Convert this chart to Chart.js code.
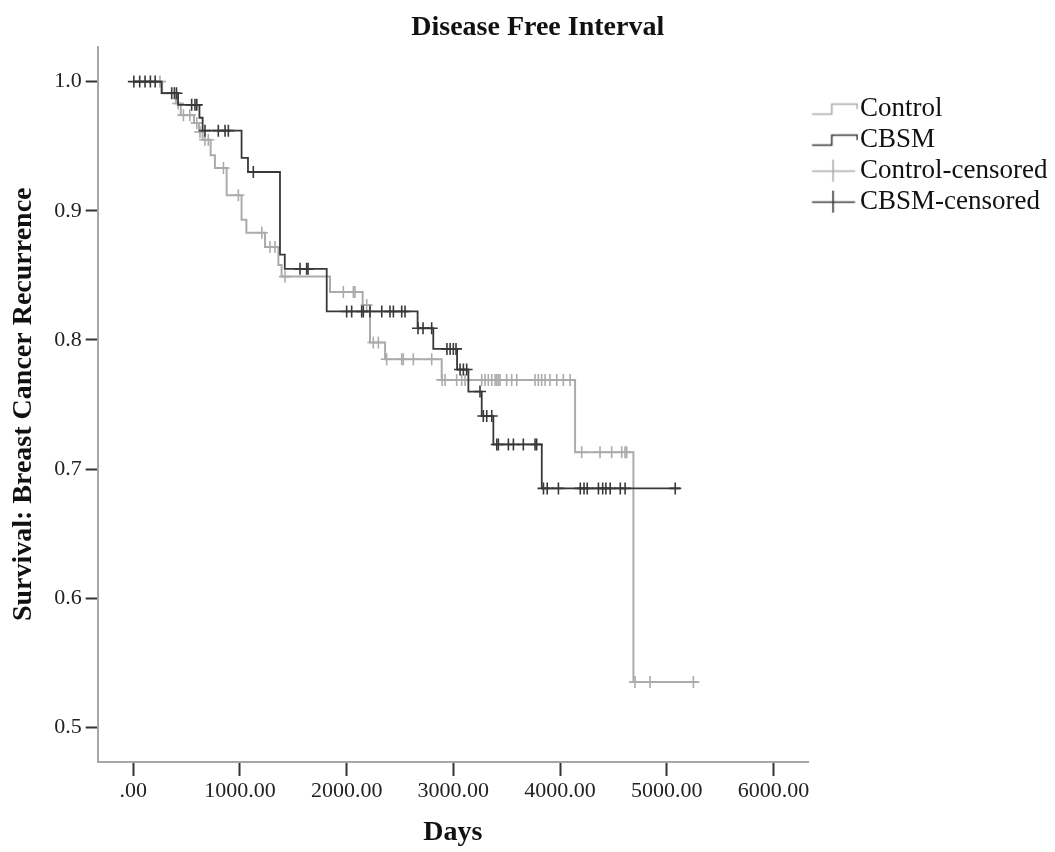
<!DOCTYPE html>
<html>
<head>
<meta charset="utf-8">
<script src="https://cdn.jsdelivr.net/npm/chart.js@4"></script>
<style>
  html, body { margin: 0; padding: 0; background: #ffffff; }
  #wrap { width: 1055px; height: 852px; position: relative; }
</style>
</head>
<body>
<div id="wrap"><canvas id="chart"></canvas></div>
<script>
// ---- Data (Kaplan-Meier step points: time in days, survival) ----
const controlTimes = [0, 270, 400, 445, 570, 615, 650, 725, 765, 875, 1015, 1060, 1235, 1360, 1390, 1844, 2150, 2219, 2360, 2891, 4141, 4688, 5282];
const controlSurv  = [1.0, 0.991, 0.983, 0.974, 0.968, 0.961, 0.955, 0.943, 0.933, 0.912, 0.893, 0.883, 0.872, 0.858, 0.849, 0.837, 0.827, 0.798, 0.785, 0.769, 0.713, 0.535, 0.535];

const cbsmTimes = [0, 265, 420, 620, 650, 1015, 1075, 1375, 1420, 1813, 2665, 2812, 3035, 3141, 3266, 3375, 3829, 5125];
const cbsmSurv  = [1.0, 0.991, 0.982, 0.972, 0.962, 0.941, 0.930, 0.866, 0.855, 0.822, 0.809, 0.793, 0.777, 0.760, 0.741, 0.719, 0.685, 0.685];

// censored observation times (days)
const controlCensored = [250, 420, 470, 530, 595, 625, 672, 703, 845, 985, 1205, 1281, 1328, 1422, 1969, 2063, 2078, 2188, 2250, 2297, 2375, 2516, 2531, 2625, 2797, 2895, 2922, 3031, 3078, 3110, 3266, 3297, 3328, 3360, 3391, 3406, 3422, 3438, 3500, 3547, 3594, 3766, 3797, 3828, 3860, 3906, 3969, 4031, 4094, 4203, 4375, 4484, 4578, 4609, 4625, 4703, 4844, 5250];
const cbsmCensored = [5, 60, 110, 160, 205, 360, 385, 405, 547, 578, 595, 672, 797, 860, 891, 1125, 1563, 1625, 1638, 2000, 2047, 2141, 2156, 2219, 2329, 2406, 2438, 2516, 2547, 2669, 2716, 2797, 2940, 2970, 3000, 3025, 3063, 3094, 3125, 3250, 3281, 3313, 3360, 3407, 3422, 3516, 3563, 3656, 3766, 3781, 3845, 3880, 3985, 4190, 4225, 4255, 4360, 4400, 4430, 4470, 4565, 4610, 5080];

const xTickValues = [0, 1000, 2000, 3000, 4000, 5000, 6000];
const yTickValues = [0.5, 0.6, 0.7, 0.8, 0.9, 1.0];
const seriesNames = ['Control', 'CBSM', 'Control-censored', 'CBSM-censored'];

// ---- helpers ----
function survivalAt(times, surv, t) {
  let s = surv[0];
  for (let i = 0; i < times.length; i++) {
    if (times[i] <= t) s = surv[i]; else break;
  }
  return s;
}
const toPoints = (xs, ys) => xs.map((x, i) => ({ x: x, y: ys[i] }));
const censorPoints = (cens, times, surv) => cens.map(t => ({ x: t, y: survivalAt(times, surv, t) }));

const GRAY = '#ababab';
const DARK = '#383838';
const SERIF = "'Liberation Serif', 'Times New Roman', serif";

function makeIcon(kind, color) {
  const c = document.createElement('canvas');
  c.width = 58; c.height = 28;
  const g = c.getContext('2d');
  g.strokeStyle = color;
  g.lineWidth = 1.6;
  g.beginPath();
  if (kind === 'step') {
    g.moveTo(11.75, 19.5); g.lineTo(31.5, 19.5); g.lineTo(31.5, 9.5); g.lineTo(57, 9.5); g.lineTo(57, 14.5);
  } else {
    g.moveTo(11.75, 14.5); g.lineTo(54.75, 14.5);
    g.moveTo(32.75, 3); g.lineTo(32.75, 25);
  }
  g.stroke();
  return c;
}
const legendIcons = [makeIcon('step', GRAY), makeIcon('step', DARK), makeIcon('cross', GRAY), makeIcon('cross', DARK)];

new Chart(document.getElementById('chart'), {
  type: 'scatter',
  data: {
    datasets: [
      { label: seriesNames[0], data: toPoints(controlTimes, controlSurv), showLine: true, stepped: 'before',
        borderColor: GRAY, borderWidth: 2, pointRadius: 0, fill: false, order: 3 },
      { label: seriesNames[1], data: toPoints(cbsmTimes, cbsmSurv), showLine: true, stepped: 'before',
        borderColor: DARK, borderWidth: 1.8, pointRadius: 0, fill: false, order: 1 },
      { label: seriesNames[2], data: censorPoints(controlCensored, controlTimes, controlSurv), showLine: false,
        pointStyle: 'cross', pointRadius: 6, pointBorderColor: GRAY, pointBorderWidth: 1.6, borderColor: GRAY, order: 2 },
      { label: seriesNames[3], data: censorPoints(cbsmCensored, cbsmTimes, cbsmSurv), showLine: false,
        pointStyle: 'cross', pointRadius: 6, pointBorderColor: DARK, pointBorderWidth: 1.6, borderColor: DARK, order: 0 }
    ]
  },
  options: {
    responsive: true,
    maintainAspectRatio: false,
    animation: false,
    devicePixelRatio: 1,
    events: [],
    layout: { padding: { left: 18, right: -2.5, top: 0, bottom: 0 } },
    plugins: {
      tooltip: { enabled: false },
      title: {
        display: true,
        text: 'Disease Free Interval',
        color: '#111',
        font: { family: SERIF, size: 28, weight: 'bold' },
        padding: { top: 11, bottom: 2 }
      },
      legend: {
        position: 'right',
        align: 'start',
        fullSize: false,
        title: { display: true, text: ' ', font: { size: 10 }, padding: { top: 32.5, bottom: 0 } },
        labels: {
          usePointStyle: true,
          pointStyleWidth: 34.5,
          padding: 4,
          color: '#111',
          font: { family: SERIF, size: 27 },
          generateLabels: (chart) => chart.data.datasets.map((ds, i) => ({
            text: ds.label,
            pointStyle: legendIcons[i],
            fillStyle: 'rgba(0,0,0,0)',
            strokeStyle: 'rgba(0,0,0,0)',
            lineWidth: 0,
            hidden: false,
            datasetIndex: i,
            fontColor: '#111'
          }))
        }
      }
    },
    scales: {
      x: {
        type: 'linear',
        min: -333.7,
        max: 6325,
        afterBuildTicks: (s) => { s.ticks = xTickValues.map(v => ({ value: v })); },
        afterFit: (s) => { s.height = 90; },
        ticks: {
          autoSkip: false, maxRotation: 0, padding: 2, color: '#222',
          font: { family: SERIF, size: 22 },
          callback: (v) => (v === 0 ? '.00' : Number(v).toFixed(2))
        },
        grid: { drawOnChartArea: false, drawTicks: true, tickLength: 14, tickColor: '#333', tickWidth: 2 },
        border: { display: true, color: '#a6a6a6', width: 2 },
        title: {
          display: true, text: 'Days', color: '#111',
          font: { family: SERIF, size: 28, weight: 'bold' },
          padding: { top: 0, bottom: 2 }
        }
      },
      y: {
        type: 'linear',
        min: 0.47312,
        max: 1.0271,
        afterBuildTicks: (s) => { s.ticks = yTickValues.map(v => ({ value: v })); },
        afterFit: (s) => { s.width = 79.7; },
        ticks: {
          autoSkip: false, padding: 4, color: '#222',
          font: { family: SERIF, size: 22 },
          callback: (v) => Number(v).toFixed(1)
        },
        grid: { drawOnChartArea: false, drawTicks: true, tickLength: 12, tickColor: '#333', tickWidth: 2 },
        border: { display: true, color: '#a6a6a6', width: 2 },
        title: {
          display: true, text: 'Survival: Breast Cancer Recurrence', color: '#111',
          font: { family: SERIF, size: 28, weight: 'bold' },
          padding: { top: -11.3, bottom: 0 }
        }
      }
    }
  }
});
</script>
</body>
</html>
